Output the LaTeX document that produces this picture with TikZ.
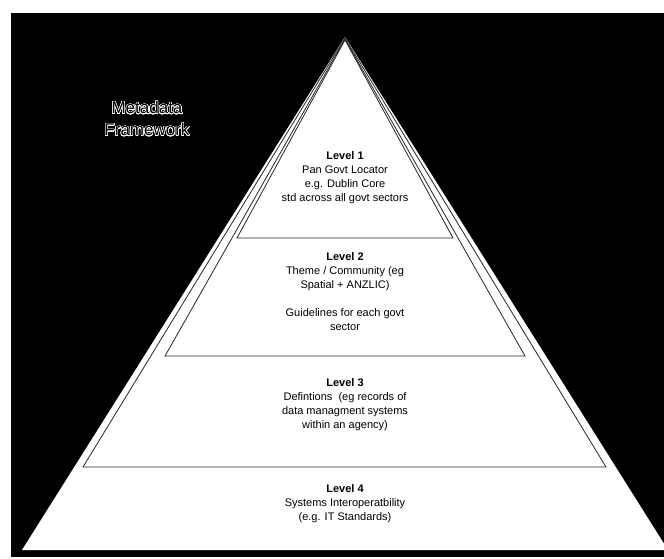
\documentclass[tikz,border=0pt]{standalone}
\usepackage{fontspec}
\setmainfont{Liberation Sans}
\usepackage{contour}
\contourlength{0.5pt}
\contournumber{24}
\begin{document}
\begin{tikzpicture}[x=1pt,y=-1pt,
                    level/.style = {align=center,
                                inner sep=0pt,
                                font=\fontsize{11}{14}\selectfont},
                    tier/.style = {fill=white,
                                draw=black!85,
                                line width=0.8pt,
                                line join=miter}]
                    \useasboundingbox (0,0) rectangle (664,558);
                    % Background
                    \fill[white] (0,0) rectangle (664,558);
                    \fill[black] (11,13) rectangle (664,557);
                    % Outer pyramid
                    \fill[white] (345,37) -- (668,550) -- (22,550) -- cycle;
                    % Level 3 triangle
                    \draw[tier] (345,38) -- (606,467) -- (83,467) -- cycle;
                    % Level 2 triangle
                    \draw[tier] (345,39) -- (525,356) -- (165,356) -- cycle;
                    % Level 1 triangle
                    \draw[tier] (345,40) -- (453,238) -- (237,238) -- cycle;
                    % Title
                    \node[align=center,text=black,inner sep=0pt,
                          font=\fontsize{17}{22}\selectfont] (title) at (147,119)
                          {\contour{white}{Metadata}\\\contour{white}{Framework}};
                    % Level labels
                    \node[level] (lvlone) at (345,178) {\textbf{Level 1}\\Pan Govt Locator\\e.g. Dublin Core\\std across all govt sectors};
                    \node[level] (lvltwo) at (345,292) {\textbf{Level 2}\\Theme / Community (eg\\Spatial + ANZLIC)\\[14pt]Guidelines for each govt\\sector};
                    \node[level] (lvlthree) at (345,405) {\textbf{Level 3}\\Defintions\ \ (eg records of\\data managment systems\\within an agency)};
                    \node[level] (lvlfour) at (345,504) {\textbf{Level 4}\\Systems Interoperatbility\\(e.g. IT Standards)};
                \end{tikzpicture}
\end{document}
